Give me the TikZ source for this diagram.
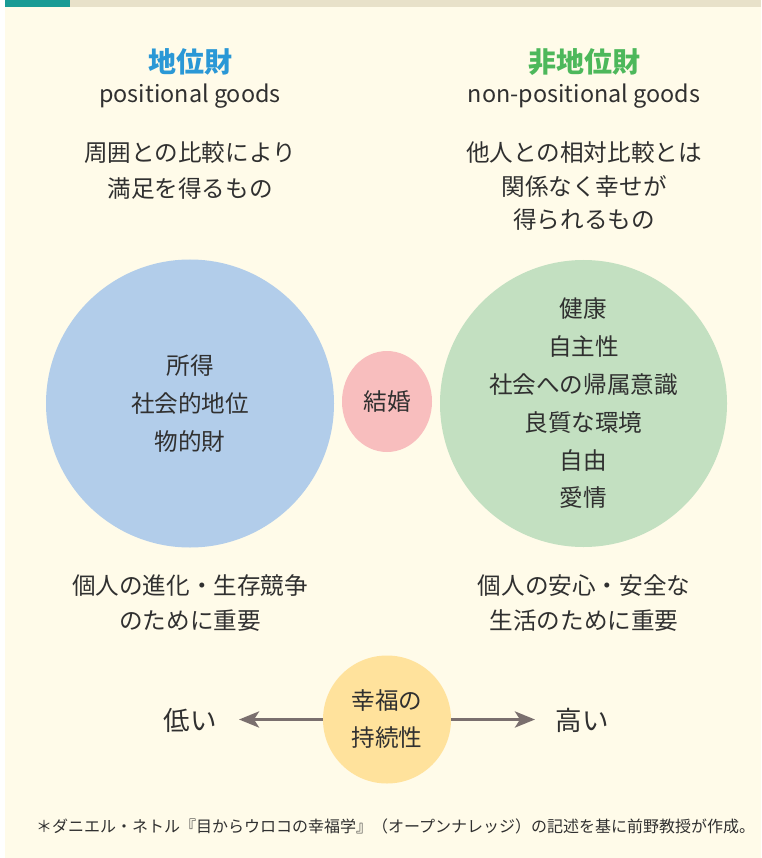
\documentclass[tikz,border=0pt]{standalone}
\usepackage{fontspec}
\setmainfont{Noto Sans CJK JP}
\usetikzlibrary{arrows.meta,shapes.geometric}
\definecolor{bgcream}{HTML}{FFFBE9}
\definecolor{barbeige}{HTML}{E8E1C9}
\definecolor{barteal}{HTML}{1A9B95}
\definecolor{cblue}{HTML}{B2CDEA}
\definecolor{cgreen}{HTML}{C3E0C1}
\definecolor{cpink}{HTML}{F8BEBE}
\definecolor{cyellow}{HTML}{FFE29C}
\definecolor{tblue}{HTML}{2A98D6}
\definecolor{tgreen}{HTML}{4DB85B}
\definecolor{txt}{HTML}{303030}
\definecolor{arr}{HTML}{7A6F6E}
\tikzset{
  base/.style={inner sep=0pt, outer sep=0pt, text=txt, align=center},
  ttl/.style={base, font={\fontsize{28}{30}\selectfont\bfseries}},
  sub/.style={base, font={\fontsize{23.4}{28}\selectfont}},
  body/.style={base, font={\fontsize{23.6}{#1}\selectfont}},
  big/.style={base, font={\fontsize{26.5}{30}\selectfont}},
  note/.style={base, font={\fontsize{16}{20}\selectfont}},
  arrowline/.style={draw=arr, line width=3.4pt, -{Stealth[length=20pt,width=16pt,inset=5pt]}}
}
\begin{document}
\begin{tikzpicture}[x=1pt,y=-1pt]
\useasboundingbox (0,0) rectangle (761,858);
\clip (0,0) rectangle (761,858);
\fill[white] (0,0) rectangle (761,858);
\fill[bgcream] (5,0) rectangle (761,858);
\fill[barbeige] (70,0) rectangle (761,7);
\fill[barteal] (5,0) rectangle (70,7);

% titles
\node[ttl, text=tblue] (t1) at (190,62) {地位財};
\node[sub] (s1) at (190,96) {positional goods};
\node[ttl, text=tgreen] (t2) at (584,62) {非地位財};
\node[sub] (s2) at (584,96) {non-positional goods};

\node[body=36] (d1) at (190,171) {周囲との比較により\\満足を得るもの};
\node[body=33.5] (d2) at (584,186.5) {他人との相対比較とは\\関係なく幸せが\\得られるもの};

% circles
\node[circle, fill=cblue, minimum size=288pt, body=38] (pos) at (190,403.5) {所得\\社会的地位\\物的財};
\node[circle, fill=cgreen, minimum size=287pt, body=37.8] (npos) at (583.5,403.5) {健康\\自主性\\社会への帰属意識\\良質な環境\\自由\\愛情};
\node[ellipse, fill=cpink, minimum width=90pt, minimum height=101pt, body=30] (mar) at (387,401.5) {結婚};

\node[body=35] (b1) at (190,603.5) {個人の進化・生存競争\\のために重要};
\node[body=35] (b2) at (584,603.5) {個人の安心・安全な\\生活のために重要};

% sustainability
\node[circle, fill=cyellow, minimum size=128pt, body=37] (sus) at (387,719.5) {幸福の\\持続性};
\node[big] (low) at (190,720) {低い};
\node[big] (high) at (582,720) {高い};
\coordinate (la) at (239,719.5);
\coordinate (ra) at (535,719.5);
\draw[arrowline] (sus.west) -- (la);
\draw[arrowline] (sus.east) -- (ra);

\node[note, anchor=west] (fn) at (36,826) {＊ダニエル・ネトル『目からウロコの幸福学』（オープンナレッジ）の記述を基に前野教授が作成。};
\end{tikzpicture}
\end{document}
